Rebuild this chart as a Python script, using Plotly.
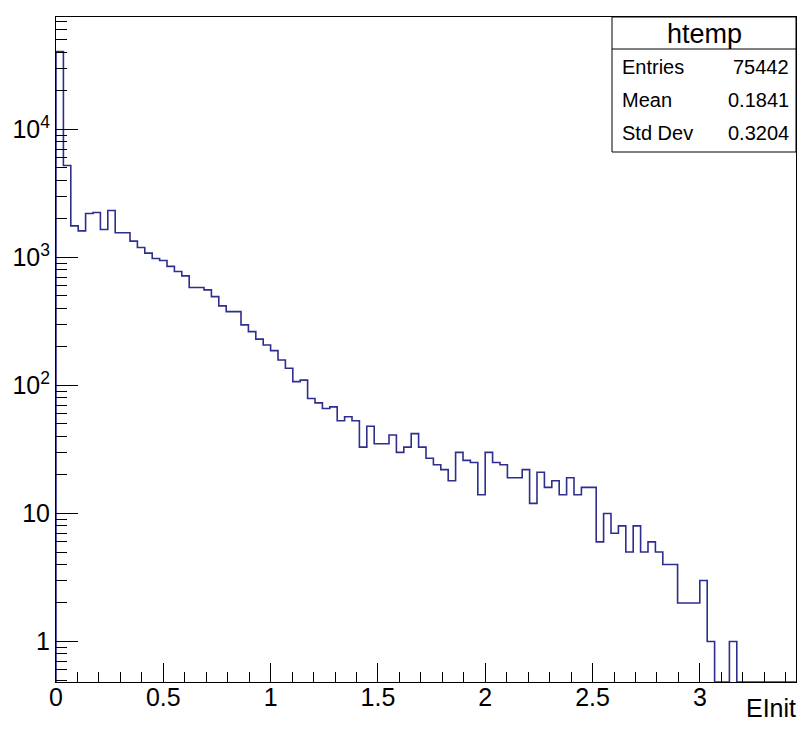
import numpy as np
import plotly.graph_objects as go

# ---- data ----
x_min = 0.0
x_max = 3.448
n_bins = 100
counts = [
    40500, 5210, 1760, 1610, 2200, 2240, 1650, 2320, 1555, 1555,
    1340, 1195, 1080, 980, 945, 850, 775, 717, 581, 581,
    557, 494, 418, 377, 377, 297, 263, 230, 207, 187,
    158, 136, 107, 110, 79, 73, 66, 68, 53, 57,
    53, 33, 48, 35, 35, 41, 30, 33, 42, 33,
    27, 24, 22, 18, 30, 26, 25, 14, 30, 25,
    24, 19, 19, 22, 12, 21, 16, 18, 14, 19,
    14, 16, 16, 6, 10, 7, 8, 5, 8, 5,
    6, 5, 4, 4, 2, 2, 2, 3, 1, 0,
    0, 1, 0, 0, 0, 0, 0, 0, 0, 0,
]
x_tick_vals = [0, 0.5, 1, 1.5, 2, 2.5, 3]
x_tick_text = ["0", "0.5", "1", "1.5", "2", "2.5", "3"]
y_tick_vals = [1, 10, 100, 1000, 10000]
y_tick_text = ["1", "10", "10<sup>2</sup>", "10<sup>3</sup>", "10<sup>4</sup>"]
stats_title = "htemp"
stats_labels = ["Entries", "Mean", "Std Dev"]
stats_values = ["75442", "0.1841", "0.3204"]
x_title = "EInit"

# ---- build step outline ----
y_log_range = [-0.316, 4.877]
floor_val = 10 ** y_log_range[0]
edges = np.linspace(x_min, x_max, n_bins + 1)
vals = np.array(counts, dtype=float)
vals_plot = np.where(vals > 0, vals, floor_val)
xs = [edges[0]] + list(edges[:-1]) + [edges[-1]]
ys = [floor_val] + list(vals_plot) + [floor_val]

line_col = "#2e2e8f"
fig = go.Figure()
fig.add_trace(go.Scatter(x=xs, y=ys, mode="lines", line=dict(color=line_col, width=1.6, shape="hv"),
                         hoverinfo="skip", showlegend=False))

font = "Liberation Sans, Arial, Helvetica, sans-serif"

minor_y = [m * 10 ** d for d in range(-1, 5) for m in range(2, 10)]
minor_y = [v for v in minor_y if floor_val <= v <= 10 ** y_log_range[1]]

fig.update_layout(
    width=800, height=741,
    margin=dict(l=56, r=4, t=17, b=59),
    paper_bgcolor="white", plot_bgcolor="white",
    font=dict(family=font, color="black"),
    xaxis=dict(range=[x_min, x_max], showgrid=False, zeroline=False,
               showline=True, linecolor="black", linewidth=1, mirror=True,
               ticks="inside", ticklen=19, tickcolor="black", tickwidth=1,
               tickvals=x_tick_vals, ticktext=x_tick_text,
               tickfont=dict(size=25, family=font), ticklabelstandoff=-7,
               minor=dict(ticks="inside", ticklen=10, dtick=0.1, tickcolor="black", showgrid=False)),
    yaxis=dict(type="log", range=y_log_range, showgrid=False, zeroline=False,
               showline=True, linecolor="black", linewidth=1, mirror=True,
               ticks="inside", ticklen=22, tickcolor="black", tickwidth=1,
               tickvals=y_tick_vals, ticktext=y_tick_text,
               tickfont=dict(size=25, family=font),
               minor=dict(ticks="inside", ticklen=11, tickvals=minor_y, tickcolor="black", showgrid=False)),
)

# ---- stats box ----
def px_x(p):
    return (p - 56) / 740.0

def px_y(p):
    return (682 - p) / 665.0

bx0, bx1, by0, by1, bsep = px_x(612), px_x(796), px_y(152), px_y(17), px_y(49)
fig.add_shape(type="rect", xref="paper", yref="paper", x0=bx0, x1=bx1, y0=by0, y1=by1,
              line=dict(color="black", width=1), fillcolor="white", layer="above")
fig.add_shape(type="line", xref="paper", yref="paper", x0=bx0, x1=bx1, y0=bsep, y1=bsep,
              line=dict(color="black", width=1), layer="above")
fig.add_annotation(xref="paper", yref="paper", x=(bx0 + bx1) / 2, y=px_y(34), text=stats_title,
                   showarrow=False, font=dict(size=27, family=font), xanchor="center", yanchor="middle")
row_y = [67, 100, 133]
for lab, val, ry in zip(stats_labels, stats_values, row_y):
    fig.add_annotation(xref="paper", yref="paper", x=px_x(620), y=px_y(ry), text=lab, showarrow=False,
                       font=dict(size=20, family=font), xanchor="left", yanchor="middle")
    fig.add_annotation(xref="paper", yref="paper", x=px_x(791), y=px_y(ry), text=val, showarrow=False,
                       font=dict(size=20, family=font), xanchor="right", yanchor="middle")

fig.add_annotation(xref="paper", yref="paper", x=px_x(798), y=px_y(708), text=x_title, showarrow=False,
                   font=dict(size=25, family=font), xanchor="right", yanchor="middle")

fig.write_html("out.html", post_script="document.body.style.margin='0px';",
               config={"displayModeBar": False})
